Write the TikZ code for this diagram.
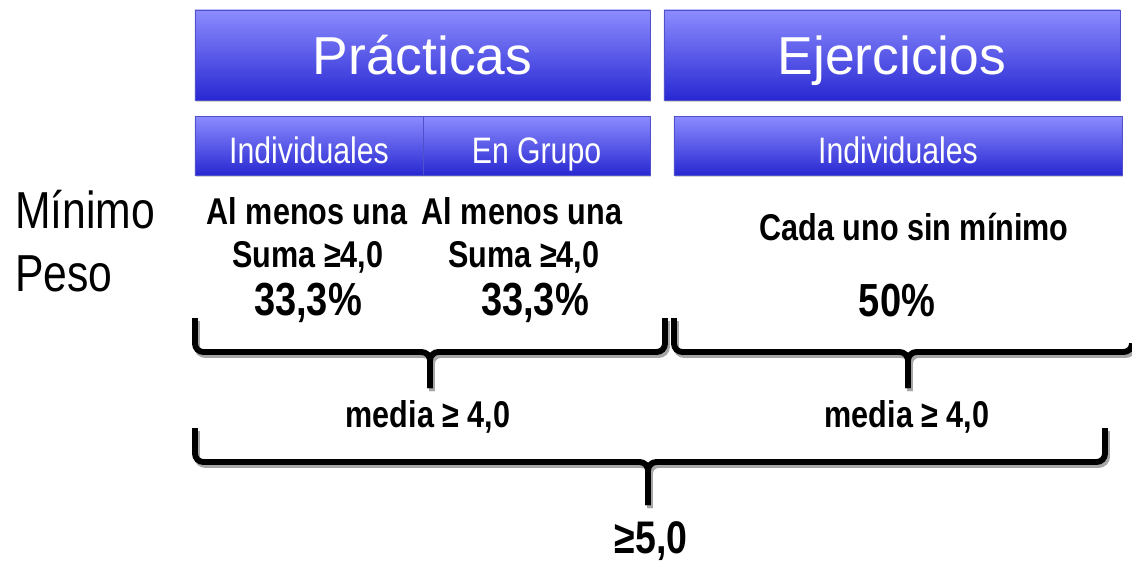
\documentclass[tikz,border=0pt]{standalone}
\usepackage{fontspec}
\setmainfont{Liberation Sans}
\newfontfamily\narrowfont{Liberation Sans}[FakeStretch=0.82]
\usetikzlibrary{shadows}

\begin{document}
\begin{tikzpicture}[x=0.025cm, y=-0.025cm,
  bluebox/.style={rectangle, inner sep=0pt, text=white, text depth=0pt,
    top color={rgb,255:red,140;green,140;blue,255},
    bottom color={rgb,255:red,40;green,40;blue,210},
    draw={rgb,255:red,80;green,80;blue,205}, line width=0.5pt,
    drop shadow={shadow xshift=0.8pt, shadow yshift=-1.5pt, opacity=0.35},
    path picture={\draw[white, opacity=0.45, line width=2pt]
      (path picture bounding box.north west) -- (path picture bounding box.north east);}},
  titlebox/.style={bluebox, minimum height=2.25cm, text height=27.2pt, font=\fontsize{38}{40}\selectfont},
  subbox/.style={bluebox, minimum height=1.475cm, text height=24.9pt, font=\narrowfont\fontsize{26.2}{28}\selectfont},
  lbl/.style={anchor=base, inner sep=0pt, font=\narrowfont\bfseries\fontsize{26.5}{28}\selectfont},
  pct/.style={lbl, font=\narrowfont\bfseries\fontsize{33}{35}\selectfont},
  side/.style={anchor=base west, inner sep=0pt, font=\narrowfont\fontsize{37}{40}\selectfont},
  brace/.style={line width=4.2pt, rounded corners=6pt}]

  \useasboundingbox (0,0) rectangle (1132,562);

  % headers
  \node[titlebox, minimum width=11.375cm] (practicas) at (422.5,55) {Prácticas};
  \node[titlebox, minimum width=11.4cm] (ejercicios) at (892,55) {Ejercicios};
  \node[subbox, minimum width=5.7cm] (pind) at (309,145.5) {Individuales};
  \node[subbox, minimum width=5.675cm] (pgrupo) at (536.5,145.5) {En Grupo};
  \node[subbox, minimum width=11.2cm] (eind) at (898,145.5) {Individuales};

  % rows
  \node[side] (minimo) at (15,228) {Mínimo};
  \node[side] (peso) at (15,291) {Peso};

  \node[lbl] (minind) at (307,224) {Al menos una};
  \node[lbl] (mingrp) at (522,224) {Al menos una};
  \node[lbl] (sumaind) at (308,267) {Suma ≥4,0};
  \node[lbl] (sumagrp) at (524,267) {Suma ≥4,0};
  \node[pct] (pesoind) at (308,315) {33,3\%};
  \node[pct] (pesogrp) at (535,315) {33,3\%};
  \node[lbl] (minej) at (914,240) {Cada uno sin mínimo};
  \node[pct] (pesoej) at (897,316) {50\%};

  \node[lbl] (mediap) at (428,427) {media ≥ 4,0};
  \node[lbl] (mediae) at (907,427) {media ≥ 4,0};
  \node[pct, font=\narrowfont\bfseries\fontsize{32.5}{34}\selectfont] (total) at (651,553) {≥5,0};

  % braces: left x / tip x / right x / left top / right top / bar / tip
  \foreach \xa/\xm/\xb/\ya/\yb/\yc/\yt in {195/430/665/318/318/352/388,
                                           674/908/1132/318/352/352/388,
                                           195/648/1105/428/428/462/505} {
    \draw[brace, black!35, shift={(2,3)}] (\xa,\ya) |- (\xm,\yc) -- (\xm,\yt);
    \draw[brace, black!35, shift={(2,3)}] (\xb,\yb) |- (\xm,\yc) -- (\xm,\yt);
    \draw[brace] (\xa,\ya) |- (\xm,\yc) -- (\xm,\yt);
    \draw[brace] (\xb,\yb) |- (\xm,\yc) -- (\xm,\yt);
  }
\end{tikzpicture}
\end{document}
